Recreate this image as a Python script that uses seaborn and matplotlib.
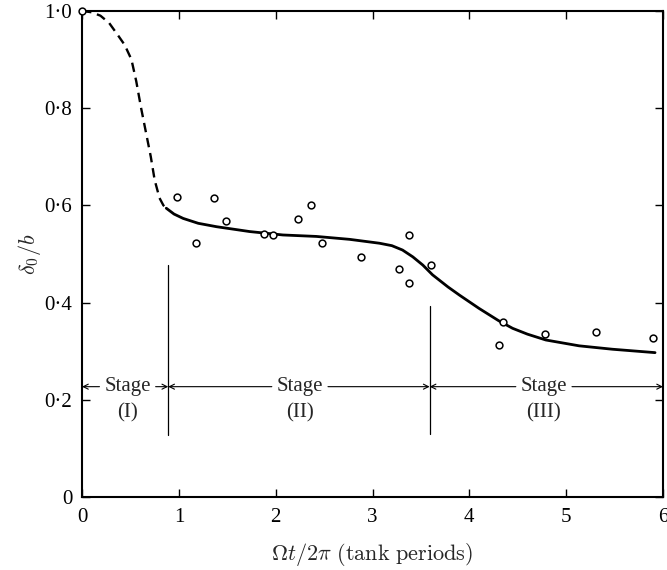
import matplotlib
matplotlib.use("Agg")
import matplotlib.pyplot as plt
import seaborn as sns
import pandas as pd

# ---- data ----
obs_x = [0.0, 0.976, 1.175, 1.364, 1.485, 1.876, 1.972, 2.234, 2.368, 2.481,
         2.876, 3.278, 3.374, 3.378, 3.605, 4.302, 4.343, 4.784, 5.306, 5.897]
obs_y = [1.0, 0.618, 0.523, 0.616, 0.567, 0.541, 0.538, 0.572, 0.601, 0.522,
         0.493, 0.468, 0.539, 0.440, 0.477, 0.312, 0.361, 0.335, 0.340, 0.328]

dash_x = [0.0, 0.1, 0.19, 0.28, 0.37, 0.44, 0.51, 0.56, 0.61, 0.66, 0.71,
          0.75, 0.80, 0.84, 0.87]
dash_y = [1.0, 0.997, 0.99, 0.975, 0.95, 0.93, 0.90, 0.855, 0.80, 0.75, 0.70,
          0.652, 0.615, 0.600, 0.594]

solid_x = [0.87, 0.95, 1.045, 1.2, 1.389, 1.732, 2.075, 2.42, 2.763, 3.072, 3.2,
           3.31, 3.416, 3.52, 3.62, 3.78, 3.9, 4.1, 4.3, 4.447, 4.6,
           4.79, 5.134, 5.477, 5.918]
solid_y = [0.594, 0.582, 0.573, 0.563, 0.556, 0.546, 0.539, 0.536, 0.530, 0.522, 0.517,
           0.508, 0.494, 0.477, 0.457, 0.432, 0.415, 0.388, 0.363, 0.347, 0.335,
           0.323, 0.311, 0.304, 0.297]

stage_bounds = [0.89, 3.59]
stage_line_lo = [0.128, 0.13]
stage_line_hi = [0.477, 0.392]
stage_names = ["(I)", "(II)", "(III)"]
stage_centers = [0.47, 2.25, 4.77]
stage_spans = [(0.0, 0.89), (0.89, 3.59), (3.59, 6.0)]
stage_text_half = [0.29, 0.29, 0.29]

xticks = [0, 1, 2, 3, 4, 5, 6]
xtick_labels = ["0", "1", "2", "3", "4", "5", "6"]
yticks = [0, 0.2, 0.4, 0.6, 0.8, 1.0]
ytick_labels = ["0", "0\u00b72", "0\u00b74", "0\u00b76", "0\u00b78", "1\u00b70"]

# ---- style ----
sns.set_theme(style="ticks")
plt.rcParams["font.family"] = ["Liberation Serif", "DejaVu Serif"]
plt.rcParams["mathtext.fontset"] = "cm"

fig = plt.figure(figsize=(6.67, 5.7), dpi=100)
ax = fig.add_axes([0.123, 0.128, 0.871, 0.853])

df_obs = pd.DataFrame({"x": obs_x, "y": obs_y})
df_dash = pd.DataFrame({"x": dash_x, "y": dash_y})
df_solid = pd.DataFrame({"x": solid_x, "y": solid_y})

sns.lineplot(data=df_dash, x="x", y="y", ax=ax, color="black", lw=1.7,
             linestyle=(0, (4, 2.5)), sort=False, estimator=None)
sns.lineplot(data=df_solid, x="x", y="y", ax=ax, color="black", lw=2.0,
             sort=False, estimator=None)
sns.scatterplot(data=df_obs, x="x", y="y", ax=ax, marker="o", s=24,
                facecolor="white", edgecolor="black", linewidth=1.1, zorder=5,
                clip_on=False)

# stage boundaries
for xb, lo, hi in zip(stage_bounds, stage_line_lo, stage_line_hi):
    ax.plot([xb, xb], [lo, hi], color="black", lw=0.9)

# stage annotations
y_arrow = 0.227
y_name = 0.173
for (a, b), c, h, name in zip(stage_spans, stage_centers, stage_text_half, stage_names):
    ax.text(c, y_arrow, "Stage", ha="center", va="center", fontsize=15)
    ax.text(c, y_name, name, ha="center", va="center", fontsize=15)
    ax.annotate("", xy=(a, y_arrow), xytext=(c - h, y_arrow),
                arrowprops=dict(arrowstyle="->", lw=0.8, color="black",
                                shrinkA=0, shrinkB=0, mutation_scale=9))
    ax.annotate("", xy=(b, y_arrow), xytext=(c + h, y_arrow),
                arrowprops=dict(arrowstyle="->", lw=0.8, color="black",
                                shrinkA=0, shrinkB=0, mutation_scale=9))

ax.set_xlim(0, 6)
ax.set_ylim(0, 1.0)
ax.set_xticks(xticks)
ax.set_xticklabels(xtick_labels)
ax.set_yticks(yticks)
ax.set_yticklabels(ytick_labels)
ax.tick_params(direction="in", length=6, width=1.0, top=True, right=True,
               labelsize=15, colors="black")
ax.tick_params(axis="x", pad=8)
ax.tick_params(axis="y", pad=7)
for sp in ax.spines.values():
    sp.set_visible(True)
    sp.set_linewidth(1.5)
    sp.set_color("black")

ax.set_xlabel(r"$\Omega t/2\pi\ \mathrm{(tank\ periods)}$", fontsize=16, labelpad=10)
ax.set_ylabel(r"$\delta_0/b$", fontsize=16, labelpad=1)

fig.savefig("out.png", dpi=100, facecolor="white")
